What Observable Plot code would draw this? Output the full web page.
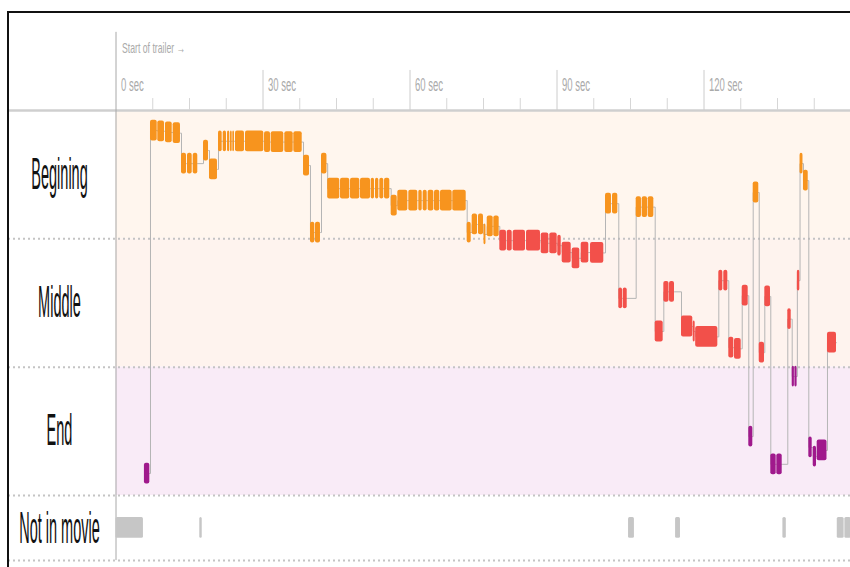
<!DOCTYPE html>
<html><head><meta charset="utf-8">
<script src="https://cdn.jsdelivr.net/npm/d3@7"></script>
<script src="https://cdn.jsdelivr.net/npm/@observablehq/plot@0.6"></script>
<style>
html,body{margin:0;padding:0;background:#fff;overflow:hidden;}
#wrap{position:relative;width:850px;height:567px;overflow:hidden;}
#frame{position:absolute;left:7px;top:11px;width:900px;height:600px;border-top:2px solid #111;border-left:2px solid #111;pointer-events:none;}
</style></head>
<body><div id="wrap"><div id="chart"></div><div id="frame"></div></div>
<script>
// Shots that appear in the movie: trailer time (sec) and position in the movie (% of runtime)
const shotStart = [5.8,7.04,8.53,10.10,11.67,13.37,14.59,15.76,17.86,19.08,20.92,21.88,22.76,23.37,23.84,24.39,26.43,30.31,31.67,34.45,36.29,38.27,39.69,40.71,41.94,43.2,45.82,47.86,49.9,52.08,52.96,53.84,54.8,56.16,57.51,59.76,61.8,62.69,63.71,65.0,66.22,68.73,71.67,72.69,73.98,75.1,75.76,77.1,78.33,79.84,81.06,83.78,86.78,88.53,90.16,91.06,93.1,94.94,96.84,99.9,101.33,102.61,103.51,106.16,107.39,108.61,110.04,111.8,112.96,115.41,117.8,118.3,123.02,124.04,125.06,126.22,127.8,129.14,130.04,131.27,132.41,133.63,134.86,137.1,138.0,138.55,139.05,139.6,140.3,141.39,142.29,143.1,145.2];
const shotEnd   = [6.9,8.41,9.90,11.47,13.16,14.39,15.55,16.69,18.88,20.71,21.67,22.55,23.22,23.71,24.18,26.22,30.16,31.53,34.24,36.16,38.0,39.49,40.57,41.73,43.05,45.67,47.71,49.76,51.94,52.76,53.63,54.65,55.88,57.39,59.55,61.59,62.49,63.51,64.86,66.08,68.61,71.47,72.49,73.78,75.0,75.5,76.98,78.2,79.69,80.86,83.57,86.63,88.33,90.04,90.86,92.9,94.65,96.49,99.55,101.12,102.41,103.37,104.33,107.24,108.47,109.76,111.67,112.86,113.98,117.71,118.2,122.82,123.84,124.86,126.08,127.59,129.02,129.96,131.18,132.35,133.57,134.73,135.96,137.8,138.45,139.0,139.55,140.2,141.27,142.08,142.96,145.1,147.04];
const shotPos   = [94.3,5.2,5.4,5.7,5.9,13.8,13.8,13.8,10.4,15.3,8.0,8.0,8.0,8.0,8.0,8.0,8.0,8.2,8.2,8.2,8.2,14.3,31.7,31.7,13.8,20.3,20.3,20.3,20.3,20.3,20.3,20.3,20.3,24.7,23.4,23.4,23.4,23.4,23.4,23.4,23.4,23.4,31.7,29.6,29.6,32.2,30.1,30.1,33.8,33.8,33.8,33.8,34.5,34.5,35.1,36.9,38.4,36.9,37.0,24.2,24.2,48.8,48.8,25.1,25.1,25.1,57.4,47.1,47.1,56.1,57.4,58.8,44.2,44.2,61.6,61.9,48.1,84.7,21.3,62.9,48.3,91.9,91.9,54.2,69.1,69.1,44.2,13.8,18.2,87.5,89.9,88.3,60.3];

// Shots not in the movie (trailer time, sec)
const outStart = [0,17.1,104.6,114.2,136.1,147.2,148.75];
const outEnd   = [5.6,17.6,105.8,115.2,136.8,148.6,150];

// Rows
const bandNames  = ["Begining","Middle","End","Not in movie"];
const bandFrom   = [0,33.33,66.67,100];
const bandTo     = [33.33,66.67,100,116.9];
const bandFill   = ["#fff6ee","#fef3ee","#f9ebf7","#ffffff"];
const shotColors = ["#f7941e","#f2504a","#a0198c"];

// Time axis
const majorTicks = [0,30,60,90,120];
const tickLabels = ["0 sec","30 sec","60 sec","90 sec","120 sec"];
const minorTicks = [7.5,15,22.5,37.5,45,52.5,67.5,75,82.5,97.5,105,112.5,127.5,135,142.5];
const headerLabel = "Start of trailer →";

// layout constants (scale units of the y axis = % of movie)
const L = {half: 2.7, outRow: 108.4, zeroTop: -20.3, majorTop: -10.4, minorTop: -3.1, tickLabelY: -6.5, headerY: -16.3};

const shots = shotStart.map((s,i)=>({start:s, end:shotEnd[i], pos:shotPos[i]}));
const outs = outStart.map((s,i)=>({start:s, end:outEnd[i]}));
const bands = bandNames.map((n,i)=>({name:n, from:bandFrom[i], to:bandTo[i], fill:bandFill[i]}));
const linePts = shots.flatMap(d=>[{x:d.start,y:d.pos},{x:d.end,y:d.pos}]);
const colorFor = p => p < 33.33 ? shotColors[0] : p < 66.67 ? shotColors[1] : shotColors[2];

const chart = Plot.plot({
  width: 850, height: 567,
  marginLeft: 8, marginTop: 12, marginRight: 0, marginBottom: 0,
  x: {domain: [0,150], range: [115.5,850.5], axis: null},
  y: {domain: [0,100], range: [110,495], axis: null},
  color: {type: "identity"},
  style: {background: "white", fontFamily: "Liberation Sans, Arial, sans-serif"},
  marks: [
    Plot.rect(bands.slice(0,3), {x1: 0, x2: 150, y1: "from", y2: "to", fill: "fill"}),
    Plot.ruleY([0], {stroke: "#cfcfcf", strokeWidth: 2.5}),
    Plot.ruleY(bandTo, {stroke: "#c4c4c4", strokeWidth: 2, strokeDasharray: "2,3"}),
    Plot.ruleX([0], {y1: L.zeroTop, y2: bandTo[3], stroke: "#a8a8a8", strokeWidth: 1}),
    Plot.ruleX(majorTicks.slice(1), {y1: L.majorTop, y2: 0, stroke: "#cccccc", strokeWidth: 1}),
    Plot.ruleX(minorTicks, {y1: L.minorTop, y2: 0, stroke: "#d6d6d6", strokeWidth: 1}),
    Plot.text(majorTicks, {x: d=>d, y: L.tickLabelY, text: (d,i)=>tickLabels[i], textAnchor: "start", dx: 5, fontSize: 18, fill: "#aaaaaa"}),
    Plot.text([headerLabel], {x: 0, y: L.headerY, text: d=>d, textAnchor: "start", dx: 6, fontSize: 15, fill: "#aaaaaa"}),
    Plot.text(bands, {y: (d,i)=> i < 3 ? (d.from+d.to)/2 : L.outRow + 0.4, text: "name", frameAnchor: "left", dx: 51, textAnchor: "middle", fontSize: 44, fill: "#111111"}),
    Plot.line(linePts, {x: "x", y: "y", curve: "step-after", stroke: "#b5b5b5", strokeWidth: 1}),
    Plot.rect(shots, {x1: "start", x2: "end", y1: d=>d.pos - L.half, y2: d=>d.pos + L.half, fill: d=>colorFor(d.pos), rx: 2}),
    Plot.rect(outs, {x1: "start", x2: "end", y1: L.outRow - L.half, y2: L.outRow + L.half, fill: "#c6c6c6", rx: 1.5})
  ]
});
document.getElementById("chart").appendChild(chart);

// horizontally condense text to match reference typography
const scaleFor = {"44": 0.33, "18": 0.53, "15": 0.58};
chart.querySelectorAll("g[font-size]").forEach(g => {
  const s = scaleFor[g.getAttribute("font-size")];
  if (!s) return;
  g.querySelectorAll("text").forEach(t => {
    const tr = t.getAttribute("transform");
    if (tr) t.setAttribute("transform", tr + ` scale(${s},1)`);
    else {
      const x = +t.getAttribute("x") || 0, y = +t.getAttribute("y") || 0;
      t.removeAttribute("x"); t.removeAttribute("y");
      t.setAttribute("transform", `translate(${x},${y}) scale(${s},1)`);
    }
  });
});
</script></body></html>
